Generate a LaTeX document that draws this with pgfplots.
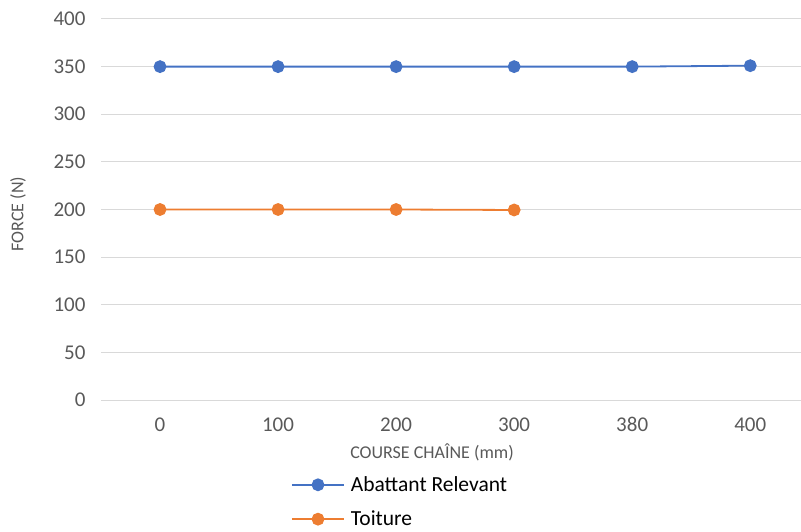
\documentclass[border=0pt]{standalone}
\usepackage{pgfplots}
\pgfplotsset{compat=1.18}
\usepackage{fontspec}
\setmainfont{Carlito}
\definecolor{cblue}{HTML}{4472C4}
\definecolor{corange}{HTML}{ED7D31}
\definecolor{tickgray}{HTML}{595959}
\definecolor{gridgray}{HTML}{D9D9D9}
\begin{document}
\begin{tikzpicture}[x=1pt,y=1pt]
\useasboundingbox (0,0) rectangle (801,531);
\begin{axis}[
  at={(101pt,131pt)}, anchor=south west,
  scale only axis, width=700pt, height=381pt,
  xmin=-0.5, xmax=5.43, ymin=0, ymax=400,
  xtick={0,1,2,3,4,5},
  xticklabels={0,100,200,300,380,400},
  ytick={0,50,...,400},
  axis line style={draw=none},
  tick style={draw=none},
  ymajorgrids, grid style={gridgray, line width=1pt},
  ticklabel style={font=\fontsize{21}{24}\selectfont, text=tickgray},
  /pgf/number format/assume math mode=true,
  yticklabel style={xshift=-12pt},
  xticklabel style={yshift=-14pt},
  clip=false,
  legend style={at={(0.267,-0.19)}, anchor=north west, draw=none, fill=none,
    font=\fontsize{21.5}{24}\selectfont, row sep=14pt, legend cell align=left,
    /tikz/every odd column/.append style={column sep=4pt}},
  legend image code/.code={\draw[mark repeat=2,mark phase=2] plot coordinates {(0pt,0pt)(26pt,0pt)(52pt,0pt)};},
]
\addplot[color=cblue, line width=1.8pt, mark=*, mark size=5.5pt, mark options={fill=cblue, draw=cblue}]
  coordinates {(0,350)(1,350)(2,350)(3,350)(4,350)(5,351)};
\addlegendentry{Abattant Relevant}
\addplot[color=corange, line width=1.8pt, mark=*, mark size=5.5pt, mark options={fill=corange, draw=corange}]
  coordinates {(0,200)(1,200)(2,200)(3,199.5)};
\addlegendentry{Toiture}
\end{axis}
\node[rotate=90, text=tickgray, font=\fontsize{18}{20}\selectfont] at (18,317) {FORCE (N)};
\node[text=tickgray, font=\fontsize{18}{20}\selectfont] at (432,79) {COURSE CHAÎNE (mm)};
\end{tikzpicture}
\end{document}
